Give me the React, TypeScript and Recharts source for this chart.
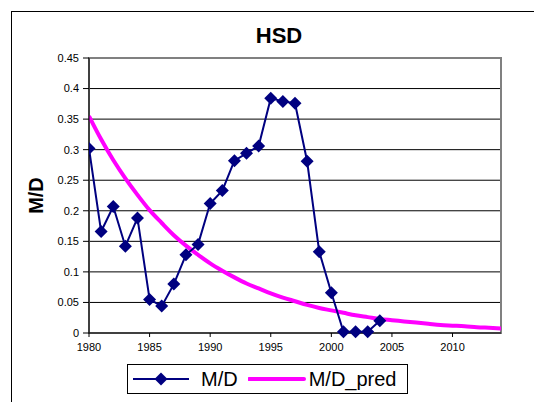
import React from 'react';
import { LineChart, Line, XAxis, YAxis, CartesianGrid, ReferenceArea } from 'recharts';

// years on the x axis
const years = [
  1980, 1981, 1982, 1983, 1984, 1985, 1986, 1987, 1988, 1989,
  1990, 1991, 1992, 1993, 1994, 1995, 1996, 1997, 1998, 1999,
  2000, 2001, 2002, 2003, 2004, 2005, 2006, 2007, 2008, 2009,
  2010, 2011, 2012, 2013, 2014,
];

// observed M/D (1980-2004)
const mdValues = [
  0.302, 0.166, 0.207, 0.142, 0.188, 0.055, 0.044, 0.080, 0.128, 0.145,
  0.212, 0.233, 0.282, 0.294, 0.306, 0.384, 0.379, 0.376, 0.281, 0.133,
  0.066, 0.002, 0.002, 0.002, 0.020,
];

// predicted M/D curve
const predValues = [
  0.355, 0.317, 0.283, 0.253, 0.226, 0.201, 0.18, 0.16, 0.143, 0.128,
  0.114, 0.102, 0.091, 0.081, 0.073, 0.065, 0.058, 0.052, 0.046, 0.041,
  0.037, 0.033, 0.029, 0.026, 0.023, 0.021, 0.019, 0.017, 0.015, 0.013,
  0.012, 0.011, 0.0095, 0.0085, 0.0075,
];

const xTicks = [1980, 1985, 1990, 1995, 2000, 2005, 2010];
const yTicks = [0, 0.05, 0.1, 0.15, 0.2, 0.25, 0.3, 0.35, 0.4, 0.45];

const data = years.map((year, i) => ({
  year,
  md: i < mdValues.length ? mdValues[i] : null,
  pred: predValues[i],
}));

const FONT = 'Arial, "Liberation Sans", sans-serif';
const NAVY = '#000080';
const MAGENTA = '#FF00FF';

const Diamond = (props: any) => {
  const { cx, cy, value, index } = props;
  if (value == null || cx == null || cy == null) return <g key={`d-${index}`} />;
  const r = 6.5;
  return (
    <polygon
      key={`d-${index}`}
      points={`${cx},${cy - r} ${cx + r},${cy} ${cx},${cy + r} ${cx - r},${cy}`}
      fill={NAVY}
    />
  );
};

const App = () => {
  return (
    <div style={{ position: 'fixed', left: 0, top: 0, width: 534, height: 402, overflow: 'hidden', background: '#fff' }}>
      <div
        style={{
          position: 'absolute',
          left: 11,
          top: 11,
          width: 600,
          height: 500,
          border: '1px solid #000',
        }}
      />
      <div
        style={{
          position: 'absolute',
          left: 229,
          top: 23,
          width: 100,
          textAlign: 'center',
          fontFamily: FONT,
          fontWeight: 'bold',
          fontSize: 22,
          lineHeight: '25px',
        }}
      >
        HSD
      </div>
      <div style={{ position: 'absolute', left: 0, top: 0 }}>
        <LineChart width={534} height={402} data={data} margin={{ top: 58, right: 33, bottom: 39, left: 29 }}>
          <CartesianGrid vertical={false} stroke="#000" strokeWidth={1} />
          <ReferenceArea x1={1980} x2={2014} y1={0} y2={0.45} fill="none" stroke="#808080" strokeWidth={2} ifOverflow="visible" />
          <XAxis
            dataKey="year"
            type="number"
            domain={[1980, 2014]}
            ticks={xTicks}
            allowDataOverflow
            stroke="#000"
            tickSize={4}
            tickMargin={6}
            tick={{ fontSize: 11, fill: '#000', fontFamily: FONT }}
          />
          <YAxis
            type="number"
            domain={[0, 0.45]}
            ticks={yTicks}
            width={60}
            stroke="#000"
            tickSize={6}
            tickMargin={4}
            tick={{ fontSize: 11, fill: '#000', fontFamily: FONT }}
            label={{
              content: (p: any) => {
                const vb = p.viewBox || { x: 29, y: 58, width: 60, height: 275 };
                const x = vb.x + 14;
                const y = vb.y + vb.height / 2;
                return (
                  <text
                    x={x}
                    y={y}
                    transform={`rotate(-90 ${x} ${y})`}
                    textAnchor="middle"
                    fontFamily={FONT}
                    fontWeight="bold"
                    fontSize={20}
                    fill="#000"
                  >
                    M/D
                  </text>
                );
              },
            }}
          />
          <Line
            type="monotone"
            dataKey="pred"
            stroke={MAGENTA}
            strokeWidth={4}
            dot={false}
            isAnimationActive={false}
          />
          <Line
            type="linear"
            dataKey="md"
            stroke={NAVY}
            strokeWidth={2}
            dot={Diamond}
            activeDot={false}
            connectNulls={false}
            isAnimationActive={false}
          />
        </LineChart>
      </div>
      <div
        style={{
          position: 'absolute',
          left: 127,
          top: 364,
          width: 279,
          height: 28,
          border: '1px solid #000',
          display: 'flex',
          alignItems: 'center',
          fontFamily: FONT,
          fontSize: 20,
          background: '#fff',
        }}
      >
        <svg width={68} height={20} style={{ marginLeft: 5 }}>
          <line x1={0} y1={10} x2={56} y2={10} stroke={NAVY} strokeWidth={2} />
          <polygon points="28,3.5 34.5,10 28,16.5 21.5,10" fill={NAVY} />
        </svg>
        <span>M/D</span>
        <svg width={66} height={20} style={{ marginLeft: 10 }}>
          <line x1={1} y1={10} x2={56} y2={10} stroke={MAGENTA} strokeWidth={4} strokeLinecap="round" />
        </svg>
        <span style={{ marginLeft: -5 }}>M/D_pred</span>
      </div>
    </div>
  );
};

export default App;
